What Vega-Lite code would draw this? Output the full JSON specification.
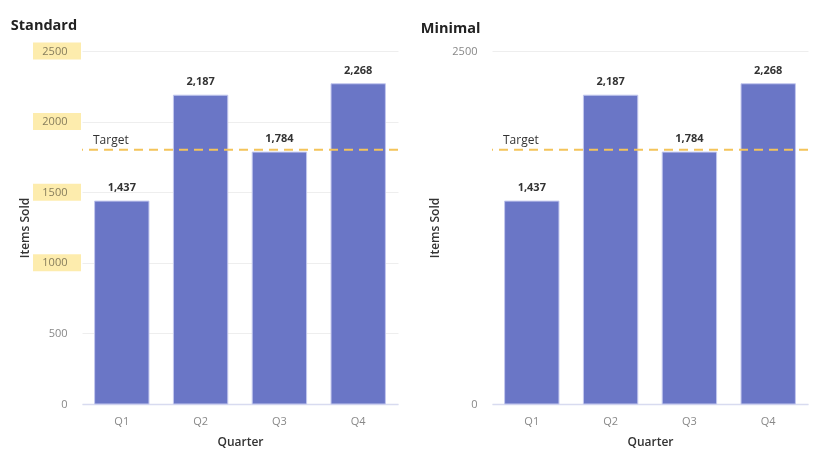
{
  "$schema": "https://vega.github.io/schema/vega-lite/v6.json",
  "padding": {"left": 10, "top": 18, "right": 20, "bottom": 5},
  "datasets": {
    "sales": [
      {"quarter": "Q1", "items": 1437},
      {"quarter": "Q2", "items": 2187},
      {"quarter": "Q3", "items": 1784},
      {"quarter": "Q4", "items": 2268}
    ],
    "target": [{"label": "Target", "value": 1800}],
    "marked": [{"tick": 2500}, {"tick": 2000}, {"tick": 1500}, {"tick": 1000}]
  },
  "spacing": 21,
  "hconcat": [
    {
      "title": "Standard",
      "width": 316,
      "height": 353,
      "layer": [
        {
          "data": {"name": "sales"},
          "mark": {"type": "bar", "color": "#6a76c6", "stroke": "#c3c8ee", "strokeWidth": 1},
          "encoding": {
            "x": {"field": "quarter", "type": "nominal", "title": "Quarter",
                  "scale": {"paddingInner": 0.31, "paddingOuter": 0.16}},
            "y": {"field": "items", "type": "quantitative", "title": "Items Sold",
                  "scale": {"domain": [0, 2500], "nice": false},
                  "axis": {"values": [0, 500, 1000, 1500, 2000, 2500], "format": "d"}}
          }
        },
        {
          "data": {"name": "sales"},
          "mark": {"type": "text", "baseline": "bottom", "dy": -8, "fontWeight": "bold", "fontSize": 11, "color": "#333", "font": "Open Sans"},
          "encoding": {
            "x": {"field": "quarter", "type": "nominal"},
            "y": {"field": "items", "type": "quantitative"},
            "text": {"field": "items", "type": "quantitative", "format": ","}
          }
        },
        {
          "data": {"name": "target"},
          "mark": {"type": "rule", "color": "#f4c45a", "strokeWidth": 2, "strokeDash": [9, 6]},
          "encoding": {"y": {"field": "value", "type": "quantitative"}}
        },
        {
          "data": {"name": "target"},
          "mark": {"type": "text", "align": "left", "baseline": "bottom", "dx": 11, "dy": -3, "fontSize": 12, "color": "#333", "font": "Open Sans", "x": 0},
          "encoding": {
            "y": {"field": "value", "type": "quantitative"},
            "text": {"field": "label"}
          }
        },
        {
          "data": {"name": "marked"},
          "mark": {"type": "tick", "orient": "horizontal", "color": "#fde48a", "blend": "multiply", "size": 48, "thickness": 17, "x": -25},
          "encoding": {
            "y": {"field": "tick", "type": "quantitative"}
          }
        }
      ]
    },
    {
      "title": "Minimal",
      "width": 316,
      "height": 353,
      "layer": [
        {
          "data": {"name": "sales"},
          "mark": {"type": "bar", "color": "#6a76c6", "stroke": "#c3c8ee", "strokeWidth": 1},
          "encoding": {
            "x": {"field": "quarter", "type": "nominal", "title": "Quarter",
                  "scale": {"paddingInner": 0.31, "paddingOuter": 0.16}},
            "y": {"field": "items", "type": "quantitative", "title": "Items Sold",
                  "scale": {"domain": [0, 2500], "nice": false},
                  "axis": {"values": [0, 2500], "format": "d"}}
          }
        },
        {
          "data": {"name": "sales"},
          "mark": {"type": "text", "baseline": "bottom", "dy": -8, "fontWeight": "bold", "fontSize": 11, "color": "#333", "font": "Open Sans"},
          "encoding": {
            "x": {"field": "quarter", "type": "nominal"},
            "y": {"field": "items", "type": "quantitative"},
            "text": {"field": "items", "type": "quantitative", "format": ","}
          }
        },
        {
          "data": {"name": "target"},
          "mark": {"type": "rule", "color": "#f4c45a", "strokeWidth": 2, "strokeDash": [9, 6]},
          "encoding": {"y": {"field": "value", "type": "quantitative"}}
        },
        {
          "data": {"name": "target"},
          "mark": {"type": "text", "align": "left", "baseline": "bottom", "dx": 11, "dy": -3, "fontSize": 12, "color": "#333", "font": "Open Sans", "x": 0},
          "encoding": {
            "y": {"field": "value", "type": "quantitative"},
            "text": {"field": "label"}
          }
        }
      ]
    }
  ],
  "config": {
    "view": {"stroke": null},
    "font": "Open Sans",
    "title": {"anchor": "start", "fontSize": 14.5, "fontWeight": "bold", "color": "#222", "dx": -8, "offset": 9},
    "axis": {
      "labelFont": "Open Sans",
      "labelFontSize": 11,
      "labelColor": "#888",
      "titleFont": "Open Sans",
      "titleFontSize": 12,
      "titleFontWeight": 600,
      "titleColor": "#333",
      "ticks": false,
      "gridColor": "#eeeeee"
    },
    "axisX": {
      "labelAngle": 0,
      "domainColor": "#d8dbf0",
      "domainWidth": 1.5,
      "labelPadding": 11,
      "titlePadding": 10
    },
    "axisY": {
      "domain": false,
      "labelPadding": 15,
      "titlePadding": 10
    }
  }
}
